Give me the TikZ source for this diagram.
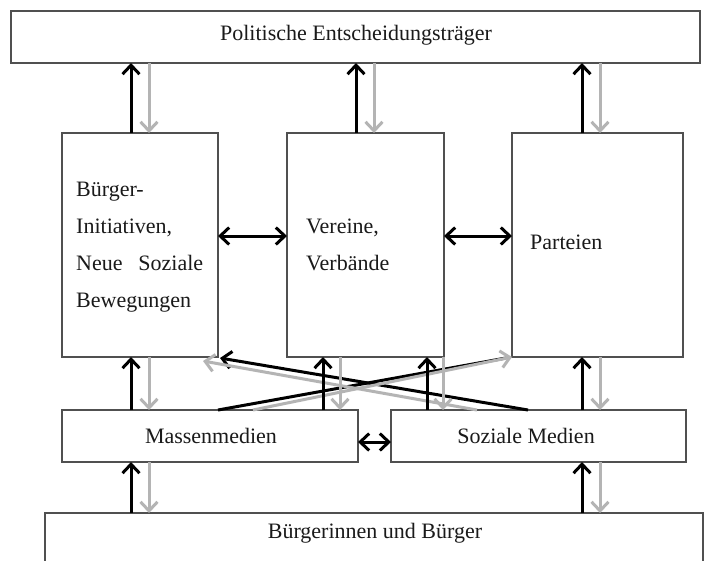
\documentclass[tikz,border=0pt]{standalone}
\usepackage{fontspec}
\setmainfont{Liberation Serif}
\usetikzlibrary{arrows.meta}
\definecolor{boxline}{HTML}{505050}
\definecolor{lgray}{HTML}{B4B4B4}
\definecolor{txt}{HTML}{1A1A1A}
\tikzset{
 box/.style={draw=boxline, line width=1.5pt, fill=white, inner sep=0pt, outer sep=0pt, anchor=north west},
 lbl/.style={font=\fontsize{22}{26}\selectfont, text=txt, inner sep=0pt},
 tipb/.tip={Straight Barb[length=9pt,width=17pt]},
 blk/.style={draw=black, line width=3pt, -tipb},
 gry/.style={draw=lgray, line width=3pt, -tipb},
 blkline/.style={draw=black, line width=3pt},
 dbl/.style={draw=black, line width=3pt, tipb-tipb},
}
\begin{document}
\begin{tikzpicture}[x=1pt,y=-1pt]
\clip (0,0) rectangle (711,560);
\fill[white] (0,0) rectangle (711,560);
% boxes
\node[box, minimum width=689pt, minimum height=52pt] (T) at (11,11) {};
\node[box, minimum width=156pt, minimum height=224pt] (L) at (62,133) {};
\node[box, minimum width=157pt, minimum height=224pt] (V) at (287,133) {};
\node[box, minimum width=171pt, minimum height=224pt] (P) at (512,133) {};
\node[box, minimum width=296pt, minimum height=52pt] (MM) at (62,410) {};
\node[box, minimum width=295pt, minimum height=52pt] (SM) at (391,410) {};
\node[box, minimum width=658pt, minimum height=60pt] (B) at (45,513) {};
% texts
\node[lbl, anchor=base] (tT) at (356,40) {Politische Entscheidungsträger};
\node[lbl, anchor=base west] (tL1) at (76,196) {Bürger-};
\node[lbl, anchor=base west] (tL2) at (76,233) {Initiativen,};
\node[lbl, anchor=base west] (tL3) at (76,270) {\makebox[127pt][s]{Neue\hfill Soziale}};
\node[lbl, anchor=base west] (tL4) at (76,307) {Bewegungen};
\node[lbl, anchor=base west] (tV1) at (306,233) {Vereine,};
\node[lbl, anchor=base west] (tV2) at (306,270) {Verbände};
\node[lbl, anchor=base west] (tP) at (530,249) {Parteien};
\node[lbl, anchor=base] (tMM) at (211,443) {Massenmedien};
\node[lbl, anchor=base] (tSM) at (526,443) {Soziale Medien};
\node[lbl, anchor=base] (tB) at (375,538) {Bürgerinnen und Bürger};
% top arrows
\coordinate (a1) at ([xshift=69pt]L.north west);
\coordinate (a2) at ([xshift=87pt]L.north west);
\coordinate (a3) at ([xshift=69pt]V.north west);
\coordinate (a4) at ([xshift=87pt]V.north west);
\coordinate (a5) at ([xshift=70pt]P.north west);
\coordinate (a6) at ([xshift=88pt]P.north west);
\draw[blk] (a1) -- (a1 |- T.south);
\draw[gry] (a2 |- T.south) -- (a2);
\draw[blk] (a3) -- (a3 |- T.south);
\draw[gry] (a4 |- T.south) -- (a4);
\draw[blk] (a5) -- (a5 |- T.south);
\draw[gry] (a6 |- T.south) -- (a6);
% box -- media arrows
\coordinate (b1) at ([xshift=69pt]MM.north west);
\coordinate (b2) at ([xshift=87pt]MM.north west);
\coordinate (b3) at ([xshift=261pt]MM.north west);
\coordinate (b4) at ([xshift=278pt]MM.north west);
\coordinate (b5) at ([xshift=36pt]SM.north west);
\coordinate (b6) at ([xshift=52pt]SM.north west);
\coordinate (b7) at ([xshift=191pt]SM.north west);
\coordinate (b8) at ([xshift=209pt]SM.north west);
% crossing lines
\draw[blkline] ([xshift=156pt]MM.north west) -- ([xshift=-6pt,yshift=-1pt]P.south west);
\draw[blk] ([xshift=137pt]SM.north west) -- ([xshift=2pt,yshift=-1pt]L.south east);
\draw[gry] ([xshift=191pt]MM.north west) -- (P.south west);
\draw[gry] ([xshift=86pt]SM.north west) -- ([xshift=-15pt,yshift=-4pt]L.south east);
\draw[blk] (b1) -- (b1 |- L.south);
\draw[gry] (b2 |- L.south) -- (b2);
\draw[blk] (b3) -- (b3 |- V.south);
\draw[gry] (b4 |- V.south) -- (b4);
\draw[blk] (b5) -- (b5 |- V.south);
\draw[gry] (b6 |- V.south) -- (b6);
\draw[blk] (b7) -- (b7 |- P.south);
\draw[gry] (b8 |- P.south) -- (b8);
% media -- bottom arrows
\coordinate (c1) at ([xshift=86pt]B.north west);
\coordinate (c2) at ([xshift=104pt]B.north west);
\coordinate (c3) at ([xshift=537pt]B.north west);
\coordinate (c4) at ([xshift=555pt]B.north west);
\draw[blk] (c1) -- (c1 |- MM.south);
\draw[gry] (c2 |- MM.south) -- (c2);
\draw[blk] (c3) -- (c3 |- SM.south);
\draw[gry] (c4 |- SM.south) -- (c4);
% horizontal double arrows
\coordinate (d1) at ([yshift=-103pt]L.north east);
\draw[dbl] (d1) -- (d1 -| V.west);
\coordinate (d2) at ([yshift=-103pt]V.north east);
\draw[dbl] (d2) -- (d2 -| P.west);
\coordinate (d3) at ([yshift=-32pt]MM.north east);
\draw[dbl] (d3) -- (d3 -| SM.west);
\end{tikzpicture}
\end{document}
